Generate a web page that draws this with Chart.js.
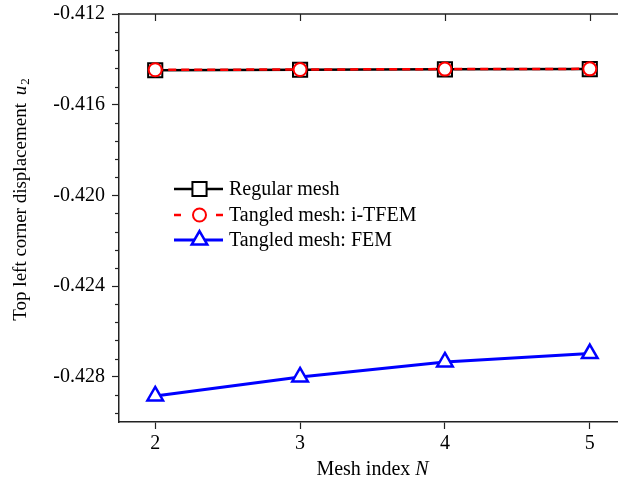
<!DOCTYPE html>
<html>
<head>
<meta charset="utf-8">
<script src="https://cdn.jsdelivr.net/npm/chart.js@4"></script>
<style>
    html, body { margin: 0; padding: 0; background: #fff; overflow: hidden; width: 618px; height: 491px; }
    canvas { display: block; }
</style>
</head>
<body>
<canvas id="meshChart" width="640" height="491"></canvas>
<script>
const MESH_INDEX = [2, 3, 4, 5];
const REGULAR_MESH = [-0.41448, -0.41446, -0.41444, -0.41443];
const TANGLED_ITFEM = [-0.41446, -0.41445, -0.41443, -0.41442];
const TANGLED_FEM = [-0.42885, -0.42801, -0.42735, -0.42698];
const Y_MAJOR_TICKS = [-0.428, -0.424, -0.420, -0.416, -0.412];
const SERIES_LABELS = ['Regular mesh', 'Tangled mesh: i-TFEM', 'Tangled mesh: FEM'];

const FONT = 'Liberation Serif';
const AXIS_COLOR = '#222';

const toPoints = values => values.map((y, i) => ({ x: MESH_INDEX[i], y }));

// minor y ticks, inward top ticks, top border, axis titles and the in-plot legend
const decorations = {
    id: 'decorations',
    afterDraw(chart) {
        const { ctx, chartArea: area, scales: { x, y } } = chart;
        ctx.save();
        ctx.strokeStyle = AXIS_COLOR;
        ctx.lineWidth = 1.5;

        ctx.beginPath();
        ctx.moveTo(area.left - 0.75, area.top);
        ctx.lineTo(area.right, area.top);
        ctx.stroke();

        ctx.lineWidth = 1.2;
        for (let k = 0; k <= 22; k++) {
            const v = -0.412 - k * 0.0008;
            if (v < y.min - 1e-9) break;
            if (k % 5 === 0) continue;
            const py = Math.round(y.getPixelForValue(v)) + 0.5;
            ctx.beginPath();
            ctx.moveTo(area.left - 4, py);
            ctx.lineTo(area.left, py);
            ctx.stroke();
        }
        MESH_INDEX.forEach(n => {
            const px = Math.round(x.getPixelForValue(n)) + 0.5;
            ctx.beginPath();
            ctx.moveTo(px, area.top);
            ctx.lineTo(px, area.top + 7);
            ctx.stroke();
        });

        // x title
        ctx.fillStyle = '#000';
        ctx.textBaseline = 'middle';
        const base = `20px "${FONT}"`;
        const ital = `italic 20px "${FONT}"`;
        ctx.font = base;
        const w1 = ctx.measureText('Mesh index ').width;
        ctx.font = ital;
        const w2 = ctx.measureText('N').width;
        let tx = (area.left + area.right) / 2 - (w1 + w2) / 2;
        ctx.font = base;
        ctx.textAlign = 'left';
        ctx.fillText('Mesh index ', tx, 470);
        ctx.font = ital;
        ctx.fillText('N', tx + w1, 470);

        // y title, rotated
        ctx.save();
        ctx.translate(21, 200);
        ctx.rotate(-Math.PI / 2);
        const main = 'Top left corner displacement ';
        const yBase = `19px "${FONT}"`;
        ctx.font = yBase;
        const m1 = ctx.measureText(main).width + 3;
        ctx.font = `italic 19px "${FONT}"`;
        const m2 = ctx.measureText('u').width;
        ctx.font = `13px "${FONT}"`;
        const m3 = ctx.measureText('2').width;
        let sx = -(m1 + m2 + m3) / 2;
        ctx.font = yBase;
        ctx.fillText(main, sx, 0);
        ctx.font = `italic 19px "${FONT}"`;
        ctx.fillText('u', sx + m1, 0);
        ctx.font = `13px "${FONT}"`;
        ctx.fillText('2', sx + m1 + m2 + 1, 5);
        ctx.restore();

        // legend
        const legendX = 174, legendW = 49, rowY = [189, 215, 240];
        chart.data.datasets.forEach((ds, i) => {
            const yy = rowY[i];
            ctx.save();
            ctx.strokeStyle = ds.borderColor;
            ctx.lineWidth = ds.borderWidth;
            ctx.setLineDash(ds.borderDash && ds.borderDash.length ? [7, 35] : []);
            ctx.beginPath();
            ctx.moveTo(legendX, yy);
            ctx.lineTo(legendX + legendW, yy);
            ctx.stroke();
            ctx.setLineDash([]);
            ctx.fillStyle = ds.pointBackgroundColor;
            ctx.strokeStyle = ds.pointBorderColor;
            ctx.lineWidth = ds.pointBorderWidth;
            Chart.helpers.drawPoint(ctx, {
                pointStyle: ds.pointStyle,
                rotation: 0,
                radius: ds.pointRadius,
                borderWidth: ds.pointBorderWidth,
            }, legendX + legendW / 2 + 1, yy);
            ctx.restore();
            ctx.fillStyle = '#000';
            ctx.font = base;
            ctx.textAlign = 'left';
            ctx.fillText(ds.label, 229, yy + 1);
        });
        ctx.restore();
    },
};

new Chart(document.getElementById('meshChart'), {
    type: 'line',
    data: {
        datasets: [
            {
                label: SERIES_LABELS[0],
                data: toPoints(REGULAR_MESH),
                borderColor: '#000',
                borderWidth: 2.5,
                pointStyle: 'rect',
                pointRadius: 10,
                pointBorderWidth: 2,
                pointBackgroundColor: '#fff',
                pointBorderColor: '#000',
                order: 3,
            },
            {
                label: SERIES_LABELS[1],
                data: toPoints(TANGLED_ITFEM),
                borderColor: '#ff0000',
                borderWidth: 2.5,
                borderDash: [8, 5],
                pointStyle: 'circle',
                pointRadius: 6.5,
                pointBorderWidth: 2,
                pointBackgroundColor: '#fff',
                pointBorderColor: '#ff0000',
                order: 2,
            },
            {
                label: SERIES_LABELS[2],
                data: toPoints(TANGLED_FEM),
                borderColor: '#0000ff',
                borderWidth: 3,
                pointStyle: 'triangle',
                pointRadius: 9,
                pointBorderWidth: 2.5,
                pointBackgroundColor: '#fff',
                pointBorderColor: '#0000ff',
                order: 1,
            },
        ],
    },
    options: {
        responsive: false,
        animation: false,
        layout: { padding: { top: 14, right: 14, left: 0, bottom: 0 } },
        scales: {
            x: {
                type: 'linear',
                min: 1.75,
                max: 5.25,
                afterBuildTicks: scale => { scale.ticks = MESH_INDEX.map(value => ({ value })); },
                afterFit: scale => { scale.height = 69; scale.paddingLeft = 0; scale.paddingRight = 0; },
                ticks: {
                    color: '#000',
                    font: { family: FONT, size: 20 },
                    padding: 3,
                    callback: v => String(v),
                },
                grid: { drawOnChartArea: false, tickLength: 7, tickWidth: 1.2, tickColor: AXIS_COLOR },
                border: { color: AXIS_COLOR, width: 1.5 },
            },
            y: {
                type: 'linear',
                min: -0.430,
                max: -0.412,
                afterBuildTicks: scale => { scale.ticks = Y_MAJOR_TICKS.map(value => ({ value })); },
                afterFit: scale => { scale.width = 119; scale.paddingTop = 0; scale.paddingBottom = 0; },
                ticks: {
                    color: '#000',
                    font: { family: FONT, size: 20 },
                    padding: 7,
                    callback: v => v.toFixed(3),
                },
                grid: { drawOnChartArea: false, tickLength: 7, tickWidth: 1.2, tickColor: AXIS_COLOR },
                border: { color: AXIS_COLOR, width: 1.5 },
            },
        },
        plugins: {
            legend: { display: false },
            tooltip: { enabled: false },
        },
    },
    plugins: [decorations],
});
</script>
</body>
</html>
